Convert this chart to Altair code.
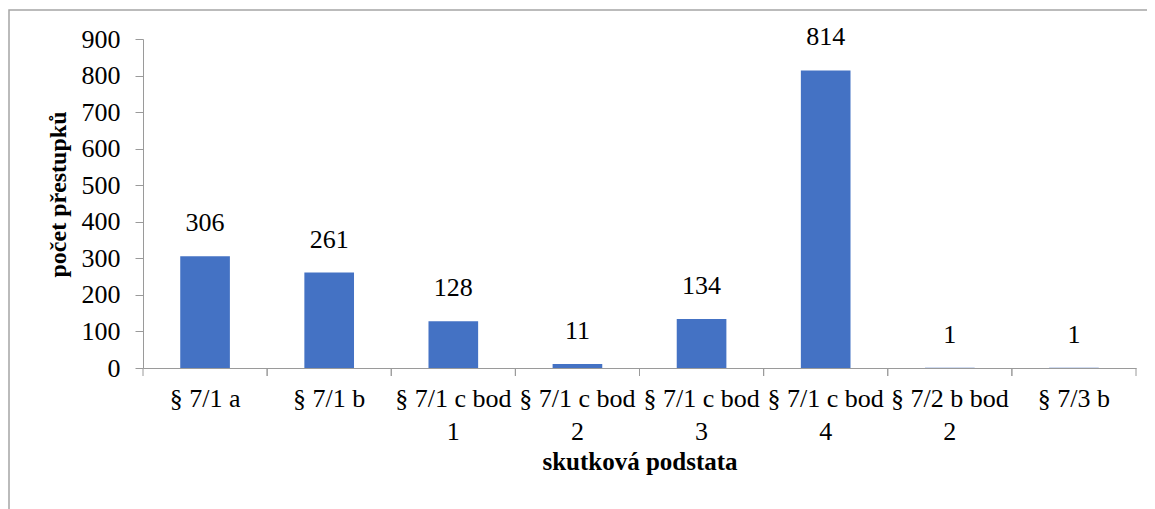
import altair as alt
import pandas as pd

categories = ["§ 7/1 a", "§ 7/1 b", "§ 7/1 c bod\n1", "§ 7/1 c bod\n2",
              "§ 7/1 c bod\n3", "§ 7/1 c bod\n4", "§ 7/2 b bod\n2", "§ 7/3 b"]
values = [306, 261, 128, 11, 134, 814, 1, 1]
y_ticks = [0, 100, 200, 300, 400, 500, 600, 700, 800, 900]

df = pd.DataFrame({"cat": categories, "val": values})

FONT = "'Times New Roman', 'Liberation Serif', serif"
GRAY = "#9a9a9a"
W, H = 993, 329

xscale = alt.Scale(paddingInner=0, paddingOuter=0)
yscale = alt.Scale(domain=[0, 900], nice=False)

x_axis = alt.Axis(title="skutková podstata", ticks=False,
                  labelExpr='split(datum.label, "\\n")',
                  labelAngle=0, labelFont=FONT, labelFontSize=26,
                  labelColor="black", labelPadding=17,
                  labelLineHeight=33, labelBaseline="top",
                  labelOverlap=False,
                  titleFont=FONT, titleFontSize=25, titleFontWeight="bold",
                  titleColor="black", titleBaseline="alphabetic",
                  titleY=101, domainColor=GRAY, labelLimit=300)
y_axis = alt.Axis(title="počet přestupků", values=y_ticks, grid=False,
                  labelFont=FONT, labelFontSize=26, labelColor="black",
                  labelPadding=15, tickSize=8, tickColor=GRAY,
                  labelOverlap=False,
                  domainColor=GRAY, titleFont=FONT, titleFontSize=24,
                  titleFontWeight="bold", titleColor="black",
                  titleAngle=270, titleX=-85, titleY=155,
                  titleAlign="center", titleBaseline="middle")

base = alt.Chart(df)

bars = base.mark_bar(color="#4472C4", width=alt.RelativeBandSize(0.4)).encode(
    x=alt.X("cat:N", sort=None, scale=xscale, axis=x_axis),
    y=alt.Y("val:Q", scale=yscale, axis=y_axis),
)

labels = base.mark_text(font=FONT, fontSize=26, color="black",
                        baseline="alphabetic", dy=-25).encode(
    x=alt.X("cat:N", sort=None, scale=xscale, axis=x_axis),
    y=alt.Y("val:Q", scale=yscale, axis=y_axis),
    text=alt.Text("val:Q"),
)

ticks_start = base.mark_rule(color=GRAY, strokeWidth=1).encode(
    x=alt.X("cat:N", sort=None, scale=xscale, bandPosition=0, axis=x_axis),
    y=alt.value(H), y2=alt.value(H + 8),
)
ticks_end = base.mark_rule(color=GRAY, strokeWidth=1).encode(
    x=alt.X("cat:N", sort=None, scale=xscale, bandPosition=1, axis=x_axis),
    y=alt.value(H), y2=alt.value(H + 8),
)

border = alt.Chart(pd.DataFrame({"a": [0]})).mark_rect(
    fill=None, stroke="#a5a5a5", strokeWidth=1.5).encode(
    x=alt.value(-134), x2=alt.value(1040),
    y=alt.value(-29), y2=alt.value(520),
)

chart = alt.layer(border, bars, labels, ticks_start, ticks_end).properties(
    width=W, height=H,
    autosize=alt.AutoSizeParams(type="none"),
    padding={"left": 135, "top": 31, "right": 11, "bottom": 141},
    background="white",
).configure_view(stroke=None)

chart.save("out.html", embed_options={"renderer": "svg", "actions": False})
